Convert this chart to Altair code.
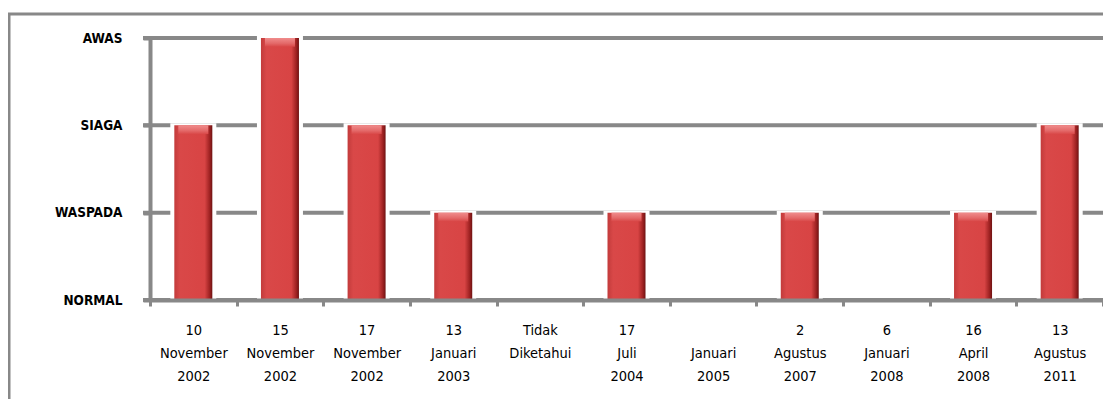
import json
import altair as alt
import pandas as pd

categories = [
    "10\nNovember\n2002", "15\nNovember\n2002", "17\nNovember\n2002",
    "13\nJanuari\n2003", "Tidak\nDiketahui", "17\nJuli\n2004",
    " \nJanuari\n2005", "2\nAgustus\n2007", "6\nJanuari\n2008",
    "16\nApril\n2008", "13\nAgustus\n2011",
]
levels = [2, 3, 2, 1, 0, 1, 0, 1, 0, 1, 2]
level_names = ["NORMAL", "WASPADA", "SIAGA", "AWAS"]
level_values = [0, 1, 2, 3]

df = pd.DataFrame({"cat": categories, "level": levels})
grid_df = pd.DataFrame({"level": level_values})

FONT = "Liberation Sans Narrow, Arial Narrow, DejaVu Sans Condensed, Liberation Sans, sans-serif"
GRAY = "#888888"

xenc = alt.X(
    "cat:N", sort=categories, title=None,
    scale=alt.Scale(domain=categories, paddingInner=0, paddingOuter=0),
    axis=alt.Axis(
        labelAngle=0, tickBand="extent",
        labelExpr="isString(datum.value) ? split(datum.value, '\\n') : ''",
        labelFont=FONT, labelFontSize=14.5, labelLineHeight=23, labelColor="#000000",
        labelPadding=17, labelBaseline="top",
        domainColor=GRAY, domainWidth=4, tickColor=GRAY, tickWidth=3, tickSize=6,
        grid=False, zindex=1,
    ),
)
yscale = alt.Scale(domain=[0, 3], nice=False, zero=True)
yenc = alt.Y(
    "level:Q", title=None, scale=yscale,
    axis=alt.Axis(
        values=level_values,
        labelExpr=json.dumps(level_names) + "[datum.value]",
        labelFont=FONT, labelFontSize=13.5, labelFontWeight="bold", labelColor="#000000",
        labelPadding=21,
        grid=False,
        domainColor=GRAY, domainWidth=4, tickColor=GRAY, tickWidth=4, tickSize=7,
        zindex=0,
    ),
)

gridlines = alt.Chart(grid_df).mark_rule(color=GRAY, strokeWidth=4).encode(
    y=alt.Y("level:Q", scale=yscale), x=alt.value(-7), x2=alt.value(953)
)

base = alt.Chart(df).transform_filter("datum.level > 0")

halo = base.mark_bar(size=42, fill="white", stroke="white", strokeWidth=4).encode(x=xenc, y=yenc)

grad = alt.Gradient(
    gradient="linear", x1=0, x2=1, y1=0, y2=0,
    stops=[
        alt.GradientStop(color="#c23b3b", offset=0),
        alt.GradientStop(color="#d94848", offset=0.15),
        alt.GradientStop(color="#d84444", offset=0.8),
        alt.GradientStop(color="#9e2222", offset=0.93),
        alt.GradientStop(color="#6e1212", offset=1),
    ],
)
bars = base.mark_bar(size=38, fill=grad).encode(x=xenc, y=yenc)

hl_grad = alt.Gradient(
    gradient="linear", x1=0, x2=0, y1=0, y2=1,
    stops=[
        alt.GradientStop(color="#f08c8c", offset=0),
        alt.GradientStop(color="#e46a6a", offset=0.6),
        alt.GradientStop(color="#d94848", offset=1),
    ],
)
highlight = base.transform_calculate(top2="datum.level - 0.1").mark_bar(
    size=30, fill=hl_grad
).encode(x=xenc, y=yenc, y2="top2:Q")

frame = pd.DataFrame({"k": [0]})
left_border = alt.Chart(frame).mark_rule(color=GRAY, strokeWidth=3).encode(
    x=alt.value(-141), y=alt.value(-24), y2=alt.value(420)
)
top_border = alt.Chart(frame).mark_rule(color=GRAY, strokeWidth=3).encode(
    x=alt.value(-142), x2=alt.value(1100), y=alt.value(-24)
)

chart = alt.layer(gridlines, halo, bars, highlight, left_border, top_border).properties(
    width=953, height=262,
    autosize=alt.AutoSizeParams(type="none"),
    padding={"left": 142, "top": 30, "right": 0, "bottom": 99},
).configure_view(stroke=None)

chart.save("out.html", embed_options={"renderer": "svg", "actions": False})
